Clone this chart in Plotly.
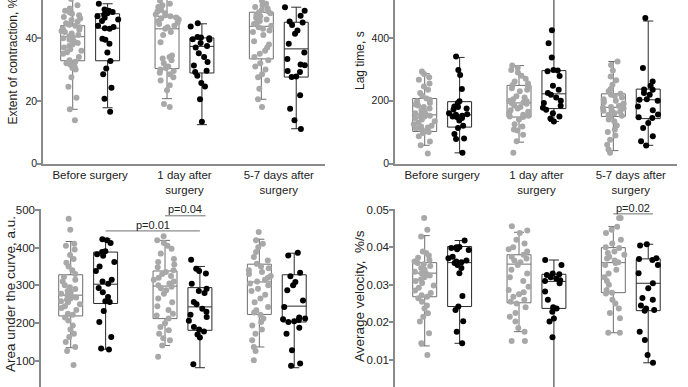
import plotly.graph_objects as go

categories = ["Before surgery", "1 day after<br>surgery", "5-7 days after<br>surgery"]

# ---------- Extent of contraction, % ----------
extent_grey = [
    [13.8, 17.3, 21.0, 24.5, 27.5, 30.0, 30.5, 31.0, 31.5, 32.0, 32.5, 33.0, 34.0, 35.0, 35.5, 36.0, 36.5, 37.0,
     37.5, 38.0, 38.5, 39.0, 39.5, 40.0, 40.3, 40.6, 41.0, 41.5, 42.0, 42.3, 42.7, 43.0, 43.5, 44.0, 44.3, 44.8,
     45.3, 45.8, 46.3, 46.8, 47.3, 47.8, 48.3, 48.8, 49.5, 50.5, 52.5, 55.0],
    [18.0, 19.0, 23.4, 25.0, 26.5, 27.5, 28.5, 29.0, 29.5, 30.0, 30.5, 31.0, 32.0, 33.0, 33.5, 34.0, 34.5, 38.7,
     41.0, 42.0, 43.0, 43.5, 44.0, 44.5, 45.0, 45.5, 46.0, 46.3, 46.6, 47.0, 47.3, 47.6, 48.0, 48.5, 49.0, 49.5,
     50.0, 50.5, 51.0, 52.0, 53.5, 55.0],
    [18.0, 20.5, 23.9, 26.5, 27.5, 28.5, 30.0, 31.0, 32.0, 33.0, 34.0, 35.0, 36.0, 37.0, 38.0, 39.0, 41.0, 42.0,
     42.5, 43.0, 43.5, 44.0, 44.5, 45.0, 45.5, 46.0, 46.5, 47.0, 47.5, 48.0, 48.3, 48.6, 49.0, 49.5, 50.0, 50.5,
     51.0, 52.0, 53.5, 55.0],
]
extent_black = [
    [16.5, 20.7, 24.2, 28.5, 30.3, 32.7, 35.4, 38.2, 39.5, 39.8, 43.0, 43.2, 43.6, 44.0, 45.5, 46.0, 46.5, 47.0,
     47.5, 48.0, 48.4, 48.8, 49.2, 51.0],
    [13.3, 20.5, 24.6, 25.7, 28.0, 29.2, 29.6, 31.3, 32.4, 34.0, 35.2, 37.0, 37.5, 38.5, 39.5, 39.7, 40.0, 40.2,
     40.4, 43.7, 44.8],
    [11.0, 13.8, 17.5, 21.8, 27.6, 27.8, 29.2, 29.5, 31.4, 31.6, 33.4, 35.4, 38.2, 41.4, 42.5, 44.2, 45.0, 45.3,
     47.2, 48.8, 49.9],
]
extent_grey_box = dict(q1=[32.8, 30.3, 33.4], median=[40.5, 43.0, 43.8], q3=[44.0, 47.0, 48.3],
                       lo=[17.3, 20.7, 20.5], hi=[56.0, 56.0, 56.0])
extent_black_box = dict(q1=[32.8, 28.9, 27.6], median=[43.2, 37.4, 36.6], q3=[47.8, 40.1, 45.1],
                        lo=[17.8, 12.4, 11.1], hi=[51.0, 44.6, 49.9])

# ---------- Lag time, s ----------
lag_grey = [
    [32, 58, 70, 87, 97, 100, 103, 105, 110, 112, 115, 118, 120, 125, 130, 135, 140, 145, 148, 150, 152, 155, 158,
     160, 165, 170, 175, 180, 185, 188, 193, 198, 203, 207, 215, 225, 235, 245, 255, 267, 275, 285, 293],
    [34, 71, 92, 105, 108, 118, 125, 140, 148, 150, 152, 155, 160, 165, 170, 175, 180, 185, 190, 193, 195, 198,
     200, 205, 210, 214, 230, 235, 240, 245, 250, 255, 261, 270, 280, 290, 298, 305, 312],
    [34, 45, 60, 76, 89, 100, 108, 121, 135, 140, 150, 152, 155, 160, 165, 168, 170, 175, 178, 180, 183, 185, 190,
     195, 200, 205, 210, 215, 219, 222, 230, 237, 251, 265, 277, 296, 314, 325],
]
lag_black = [
    [34, 78, 80, 94, 113, 120, 137, 145, 148, 150, 152, 155, 157, 160, 172, 175, 180, 182, 193, 198, 237, 282, 298, 341],
    [134, 143, 150, 160, 171, 178, 184, 193, 200, 210, 219, 225, 235, 248, 279, 294, 296, 298, 338, 383, 425, 560],
    [57, 71, 87, 113, 129, 145, 147, 156, 170, 182, 200, 203, 205, 219, 225, 235, 236, 248, 261, 304, 464],
]
lag_grey_box = dict(q1=[102, 148, 150], median=[155, 193, 179], q3=[207, 249, 222],
                    lo=[58, 68, 41], hi=[286, 312, 325])
lag_black_box = dict(q1=[116, 175, 143], median=[155, 222, 203], q3=[197, 296, 237],
                     lo=[34, 134, 58], hi=[338, 560, 454])

# ---------- Area under the curve, a.u. ----------
auc_grey = [
    [89, 126, 137, 150, 163, 172, 183, 194, 207, 215, 222, 225, 235, 240, 245, 250, 255, 258, 262, 265, 268, 270,
     274, 278, 282, 285, 290, 295, 300, 310, 315, 322, 330, 340, 350, 360, 370, 380, 395, 405, 410, 447, 476],
    [111, 141, 155, 160, 172, 181, 190, 200, 212, 220, 225, 235, 245, 255, 265, 278, 287, 292, 296, 300, 305, 310,
     315, 320, 325, 330, 335, 340, 348, 355, 362, 370, 384, 397, 405, 412, 419, 430],
    [102, 126, 137, 155, 172, 183, 194, 203, 212, 222, 228, 234, 243, 255, 265, 275, 285, 291, 300, 305, 310, 315,
     320, 325, 330, 335, 340, 345, 350, 357, 366, 375, 388, 401, 410, 419, 441],
]
auc_black = [
    [130, 133, 163, 203, 232, 256, 258, 269, 282, 293, 304, 310, 315, 338, 350, 362, 378, 382, 388, 390, 412, 419, 422],
    [91, 162, 170, 178, 183, 190, 206, 216, 222, 230, 238, 250, 256, 280, 285, 291, 304, 331, 338, 344, 368],
    [87, 93, 128, 172, 188, 203, 205, 208, 210, 212, 215, 243, 260, 287, 300, 309, 324, 333, 379, 386],
]
auc_grey_box = dict(q1=[219, 212, 223], median=[274, 298, 309], q3=[328, 338, 356],
                    lo=[135, 141, 137], hi=[416, 419, 422])
auc_black_box = dict(q1=[252, 181, 203], median=[303, 243, 245], q3=[388, 294, 328],
                     lo=[131, 82, 82], hi=[423, 350, 385])

# ---------- Average velocity, %/s ----------
vel_grey = [
    [.0113, .0144, .0171, .0202, .0215, .0224, .0237, .0245, .0255, .0264, .0268, .0272, .0278, .0285, .0292, .0298,
     .0305, .0310, .0315, .0320, .0325, .0330, .0331, .0335, .0340, .0345, .0350, .0355, .0358, .0362, .0366, .0372,
     .0378, .0385, .0389, .0429, .0447, .0478],
    [.0150, .0150, .0175, .0185, .0202, .0215, .0225, .0240, .0250, .0255, .0260, .0268, .0275, .0280, .0286, .0295,
     .0310, .0320, .0330, .0340, .0353, .0360, .0365, .0370, .0375, .0380, .0389, .0395, .0400, .0410, .0420, .0438,
     .0445, .0456],
    [.0172, .0172, .0211, .0225, .0237, .0250, .0260, .0277, .0279, .0286, .0300, .0310, .0320, .0330, .0340, .0353,
     .0358, .0360, .0365, .0370, .0375, .0380, .0385, .0389, .0398, .0400, .0410, .0420, .0438, .0447, .0455, .0478,
     .0478],
]
vel_black = [
    [.0144, .0175, .0203, .0233, .0242, .0270, .0331, .0345, .0353, .0358, .0360, .0362, .0365, .0371, .0375, .0393,
     .0395, .0398, .0400, .0401, .0418],
    [.0010, .0160, .0202, .0210, .0228, .0237, .0240, .0260, .0282, .0304, .0310, .0312, .0317, .0320, .0326, .0328,
     .0330, .0353, .0366],
    [.0092, .0113, .0153, .0175, .0231, .0233, .0237, .0245, .0260, .0265, .0291, .0304, .0331, .0353, .0366, .0369,
     .0371, .0405, .0408],
]
vel_grey_box = dict(q1=[.0268, .0252, .0279], median=[.0331, .0355, .0359], q3=[.0359, .0380, .0399],
                    lo=[.0137, .0175, .0172], hi=[.0431, .0440, .0455])
vel_black_box = dict(q1=[.0242, .0237, .0231], median=[.0359, .0309, .0304], q3=[.0402, .0328, .0369],
                     lo=[.0144, 0.0, .0092], hi=[.0418, .0366, .0408])

y_titles = ["Extent of contraction, %", "Lag time, s", "Area under the curve, a.u.", "Average velocity,  %/s"]

# ---------- styling ----------
FONT = "Liberation Sans, Arial, sans-serif"
AXIS_COLOR = "#8a8a8a"
GREY_PT = "#a8a8a8"
BLACK_PT = "#000000"
GREY_LINE = "#6e6e6e"
BLACK_LINE = "#2a2a2a"
OFF = 0.185
BOXW = 0.254

panels = [
    ("x", "y", extent_grey, extent_black, extent_grey_box, extent_black_box),
    ("x2", "y2", lag_grey, lag_black, lag_grey_box, lag_black_box),
    ("x3", "y3", auc_grey, auc_black, auc_grey_box, auc_black_box),
    ("x4", "y4", vel_grey, vel_black, vel_grey_box, vel_black_box),
]

fig = go.Figure()
for xa, ya, g_pts, b_pts, g_box, b_box in panels:
    for pts, st, off, pcol, lcol in [(g_pts, g_box, -OFF, GREY_PT, GREY_LINE),
                                      (b_pts, b_box, OFF, BLACK_PT, BLACK_LINE)]:
        pos = [i + off for i in range(3)]
        fig.add_trace(go.Box(
            x=pos, q1=st["q1"], median=st["median"], q3=st["q3"],
            lowerfence=st["lo"], upperfence=st["hi"],
            boxpoints=False, width=BOXW, whiskerwidth=0.42,
            line=dict(color=lcol, width=1), fillcolor="rgba(0,0,0,0)",
            xaxis=xa, yaxis=ya, showlegend=False, hoverinfo="skip"))
        xs, ys = [], []
        for i, vals in enumerate(pts):
            xs += [pos[i]] * len(vals)
            ys += vals
        fig.add_trace(go.Box(
            x=xs, y=ys, boxpoints="all", jitter=1.0, pointpos=0, width=BOXW,
            line=dict(width=0, color="rgba(0,0,0,0)"), fillcolor="rgba(0,0,0,0)",
            marker=dict(color=pcol, size=6, opacity=1),
            xaxis=xa, yaxis=ya, showlegend=False, hoverinfo="skip"))

W, H = 688, 387
top_dom = [(H - 163.5) / H, 1.0]
bot_dom = [0.0, (H - 209) / H]

xcommon = dict(range=[-0.5, 2.49], showgrid=False, automargin=False,
               zeroline=False, ticks="", tickfont=dict(size=11.5, color="#222", family=FONT),
               linecolor=AXIS_COLOR, linewidth=1.5)


def ycommon(fs):
    return dict(showgrid=False, zeroline=False, showline=True, linecolor=AXIS_COLOR, linewidth=1.5,
                automargin=False, ticks="outside", ticklen=4, tickwidth=1.5, tickcolor=AXIS_COLOR,
                ticklabelstandoff=-2,
                tickfont=dict(size=fs, color="#222", family=FONT))


fig.update_layout(
    width=W, height=H, margin=dict(l=0, r=0, t=0, b=0, pad=0, autoexpand=False),
    paper_bgcolor="white", plot_bgcolor="white",
    font=dict(family=FONT, color="#222"),
    boxmode="overlay", showlegend=False,
    xaxis=dict(domain=[43 / W, 325 / W], showline=True, anchor="y",
               tickvals=[0, 1, 2], ticktext=categories, **xcommon),
    yaxis=dict(domain=top_dom, range=[0, 52.2], tickvals=[0, 20, 40, 60], anchor="x", **ycommon(10.5)),
    xaxis2=dict(domain=[395 / W, 677 / W], showline=True, anchor="y2",
                tickvals=[0, 1, 2], ticktext=categories, **xcommon),
    yaxis2=dict(domain=top_dom, range=[0, 521], tickvals=[0, 200, 400, 600], anchor="x2", **ycommon(10.5)),
    xaxis3=dict(domain=[41 / W, 323 / W], showline=False, showticklabels=False, anchor="y3", **xcommon),
    yaxis3=dict(domain=bot_dom, range=[31, 502], tickvals=[100, 200, 300, 400, 500], anchor="x3",
                **ycommon(11.5)),
    xaxis4=dict(domain=[395 / W, 677 / W], showline=False, showticklabels=False, anchor="y4", **xcommon),
    yaxis4=dict(domain=bot_dom, range=[0.00275, 0.0502], tickvals=[0.01, 0.02, 0.03, 0.04, 0.05],
                tickformat=".2f", anchor="x4", **ycommon(11.5)),
)

# y-axis titles (as rotated text, positioned like the reference crop)
title_pos = [(12, 61.5, 12), (360, 61, 12), (10, 294, 13.5), (359, 296, 13.5)]
for t, (px, py, fs) in zip(y_titles, title_pos):
    fig.add_annotation(text=t, x=px / W, y=1 - py / H, xref="paper", yref="paper", textangle=-90,
                       showarrow=False, font=dict(size=fs, color="#222", family=FONT),
                       xanchor="center", yanchor="middle")

# significance brackets
sig = [
    ("x3", "y3", 0 + OFF, 1 + OFF, 444, "p=0.01", 1 - 225 / H),
    ("x3", "y3", 1 - OFF, 1 + OFF + 0.06, 484, "p=0.04", 1 - 209 / H),
    ("x4", "y4", 2 - OFF, 2 + OFF + 0.05, 0.0489, "p=0.02", 1 - 208 / H),
]
for xa, ya, x0, x1, yv, txt, ty in sig:
    fig.add_shape(type="line", xref=xa, yref=ya, x0=x0, x1=x1, y0=yv, y1=yv,
                  line=dict(color="#707070", width=1))
    fig.add_annotation(text=txt, x=(x0 + x1) / 2, y=ty, xref=xa, yref="paper", showarrow=False,
                       font=dict(size=11, color="#222", family=FONT), xanchor="center", yanchor="middle")

fig.write_html("out.html", config={"displayModeBar": False},
               post_script="document.body.style.margin='0px';")
